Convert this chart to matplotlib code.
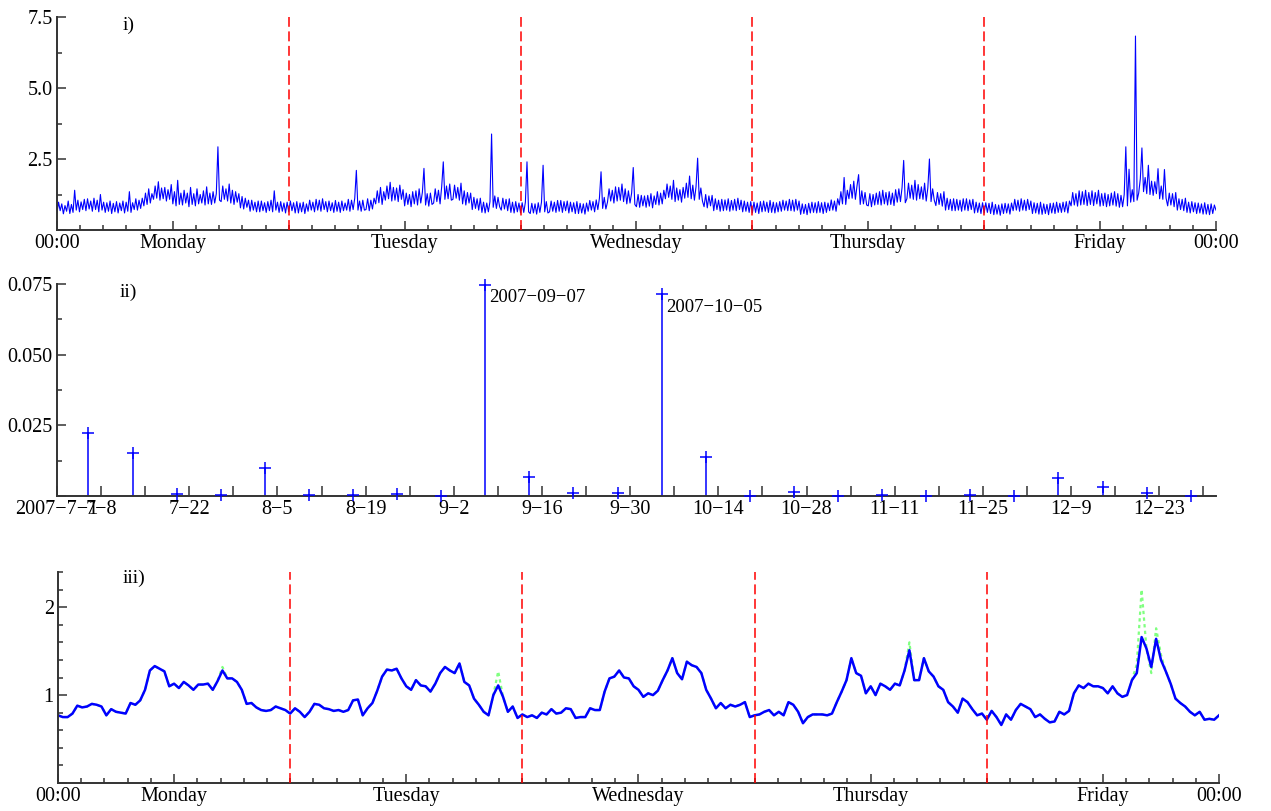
import numpy as np
import pandas as pd
import matplotlib
matplotlib.use("Agg")
import matplotlib.pyplot as plt
from matplotlib.ticker import MultipleLocator, FixedLocator, FuncFormatter

plt.rcParams['font.family'] = ['Liberation Serif', 'DejaVu Serif']

# ---- panel i): raw load, one value every 10 minutes (one row per hour) ----
raw_mon = [0.60, 0.98, 0.68, 0.92, 0.57, 0.86,
           0.66, 1.02, 0.58, 0.90, 0.62, 1.40,
           0.70, 1.05, 0.64, 0.99, 0.72, 1.08,
           0.68, 1.10, 0.74, 1.02, 0.66, 1.12,
           0.72, 1.05, 0.64, 1.25, 0.70, 0.98,
           0.62, 0.96, 0.66, 1.02, 0.58, 0.94,
           0.64, 1.00, 0.60, 0.95, 0.68, 1.02,
           0.60, 0.98, 0.66, 1.35, 0.62, 0.96,
           0.72, 1.10, 0.70, 1.05, 0.76, 1.12,
           0.85, 1.30, 0.90, 1.45, 0.95, 1.28,
           1.08, 1.55, 1.12, 1.70, 1.05, 1.48,
           1.10, 1.50, 1.02, 1.42, 1.08, 1.60,
           0.92, 1.35, 0.85, 1.75, 0.90, 1.30,
           0.88, 1.40, 0.95, 1.30, 0.82, 1.50,
           0.90, 1.28, 0.85, 1.45, 0.92, 1.25,
           0.95, 1.38, 0.88, 1.52, 0.92, 1.30,
           0.90, 1.35, 0.95, 1.28, 2.93, 1.05,
           1.00, 1.55, 1.08, 1.45, 1.02, 1.62,
           0.95, 1.40, 0.90, 1.35, 0.98, 1.28,
           0.78, 1.18, 0.74, 1.12, 0.80, 1.05,
           0.66, 1.05, 0.70, 0.98, 0.64, 1.02,
           0.64, 1.02, 0.68, 0.96, 0.62, 1.00,
           0.68, 1.05, 0.64, 1.38, 0.70, 0.98,
           0.62, 1.00, 0.66, 0.95, 0.60, 0.98]
raw_tue = [0.64, 1.02, 0.68, 0.96, 0.60, 1.00,
           0.60, 0.95, 0.64, 0.98, 0.58, 0.92,
           0.66, 1.05, 0.70, 0.98, 0.64, 1.08,
           0.70, 1.05, 0.66, 1.10, 0.72, 1.00,
           0.64, 1.02, 0.68, 0.96, 0.62, 1.04,
           0.66, 0.98, 0.62, 1.02, 0.68, 0.95,
           0.70, 1.08, 0.66, 1.05, 0.72, 1.12,
           2.10, 0.70, 1.02, 0.66, 1.05, 0.70,
           0.72, 1.10, 0.68, 1.05, 0.74, 1.12,
           0.92, 1.38, 0.96, 1.50, 0.90, 1.35,
           1.05, 1.55, 1.10, 1.68, 1.02, 1.50,
           1.05, 1.48, 1.00, 1.58, 1.08, 1.42,
           0.85, 1.30, 0.90, 1.25, 0.82, 1.35,
           0.92, 1.38, 0.88, 1.45, 0.95, 1.32,
           2.17, 0.88, 1.28, 0.84, 1.30, 0.90,
           0.95, 1.45, 1.00, 1.40, 0.92, 1.52,
           2.40, 1.08, 1.55, 1.10, 1.62, 1.05,
           1.08, 1.58, 1.12, 1.50, 1.05, 1.65,
           0.92, 1.38, 0.88, 1.32, 0.95, 1.30,
           0.72, 1.15, 0.76, 1.10, 0.70, 1.12,
           0.62, 0.98, 0.60, 0.95, 0.64, 1.00,
           3.38, 0.80, 1.20, 0.76, 1.15, 0.82,
           0.70, 1.12, 0.74, 1.08, 0.68, 1.10,
           0.62, 0.98, 0.60, 1.00, 0.64, 0.95]
raw_wed = [0.60, 0.96, 0.62, 0.98, 2.40, 0.64,
           0.58, 0.94, 0.60, 0.92, 0.56, 0.96,
           0.62, 0.98, 2.28, 0.64, 1.00, 0.60,
           0.64, 1.02, 0.66, 0.98, 0.62, 1.04,
           0.66, 1.04, 0.62, 1.00, 0.68, 1.02,
           0.60, 0.98, 0.64, 0.96, 0.58, 1.00,
           0.58, 0.94, 0.60, 0.92, 0.56, 0.95,
           0.66, 1.04, 0.70, 1.00, 0.64, 1.06,
           0.72, 1.12, 2.05, 0.76, 1.15, 0.74,
           0.98, 1.45, 1.02, 1.40, 0.95, 1.52,
           1.02, 1.50, 1.05, 1.62, 1.00, 1.45,
           0.92, 1.38, 0.95, 1.30, 2.20, 0.90,
           0.82, 1.25, 0.80, 1.22, 0.85, 1.20,
           0.80, 1.22, 0.84, 1.28, 0.78, 1.20,
           0.90, 1.35, 0.88, 1.30, 0.92, 1.40,
           1.10, 1.62, 1.15, 1.55, 1.08, 1.75,
           1.00, 1.48, 1.05, 1.42, 0.98, 1.50,
           1.12, 1.65, 1.15, 1.90, 1.10, 1.58,
           1.05, 1.52, 2.53, 1.08, 1.48, 1.02,
           0.82, 1.25, 0.78, 1.20, 0.85, 1.22,
           0.68, 1.10, 0.72, 1.05, 0.66, 1.08,
           0.68, 1.06, 0.70, 1.10, 0.66, 1.04,
           0.70, 1.08, 0.68, 1.12, 0.72, 1.05,
           0.64, 1.02, 0.66, 0.98, 0.62, 1.00]
raw_thu = [0.60, 0.98, 0.62, 0.95, 0.58, 1.00,
           0.64, 1.02, 0.66, 0.98, 0.62, 1.04,
           0.62, 0.98, 0.60, 0.96, 0.64, 1.00,
           0.66, 1.05, 0.70, 1.02, 0.68, 1.08,
           0.68, 1.05, 0.66, 1.08, 0.70, 1.02,
           0.55, 0.92, 0.58, 0.90, 0.54, 0.94,
           0.60, 0.98, 0.62, 0.96, 0.60, 1.00,
           0.62, 0.96, 0.58, 0.98, 0.62, 0.95,
           0.68, 1.06, 0.70, 1.02, 0.66, 1.10,
           0.88, 1.35, 0.92, 1.85, 0.90, 1.40,
           1.10, 1.60, 1.12, 1.72, 1.08, 1.55,
           1.95, 0.90, 1.38, 0.92, 1.32, 0.88,
           0.85, 1.28, 0.82, 1.25, 0.88, 1.30,
           0.90, 1.35, 0.88, 1.40, 0.92, 1.32,
           0.88, 1.35, 0.90, 1.30, 0.86, 1.42,
           0.98, 1.45, 1.00, 1.50, 2.45, 0.96,
           1.10, 1.65, 1.12, 1.58, 1.08, 1.75,
           1.05, 1.60, 1.10, 1.52, 1.08, 1.65,
           1.02, 1.48, 2.50, 1.00, 1.45, 1.05,
           0.86, 1.32, 0.90, 1.28, 0.84, 1.35,
           0.70, 1.12, 0.72, 1.08, 0.68, 1.10,
           0.68, 1.08, 0.70, 1.05, 0.66, 1.10,
           0.70, 1.10, 0.68, 1.06, 0.72, 1.08,
           0.60, 0.98, 0.62, 0.95, 0.58, 0.96]
raw_fri = [0.60, 0.96, 0.62, 0.94, 0.58, 0.98,
           0.54, 0.90, 0.56, 0.88, 0.52, 0.92,
           0.58, 0.94, 0.60, 0.92, 0.56, 0.95,
           0.68, 1.08, 0.70, 1.05, 0.66, 1.10,
           0.70, 1.05, 0.68, 1.08, 0.72, 1.02,
           0.58, 0.96, 0.60, 0.94, 0.56, 0.98,
           0.55, 0.92, 0.58, 0.90, 0.54, 0.94,
           0.60, 0.95, 0.58, 0.98, 0.62, 0.94,
           0.62, 0.98, 0.64, 1.00, 0.60, 1.02,
           0.85, 1.32, 0.88, 1.28, 0.84, 1.38,
           0.88, 1.35, 0.90, 1.40, 0.86, 1.32,
           0.90, 1.38, 0.86, 1.32, 0.92, 1.40,
           0.84, 1.28, 0.86, 1.30, 0.82, 1.25,
           0.85, 1.30, 0.88, 1.35, 0.84, 1.28,
           0.80, 1.22, 0.82, 1.25, 2.93, 0.85,
           2.14, 0.98, 1.42, 1.00, 6.83, 1.05,
           1.30, 1.80, 2.89, 1.35, 1.85, 1.28,
           2.28, 1.25, 1.72, 1.22, 1.70, 1.28,
           2.16, 1.10, 1.55, 1.08, 2.13, 1.12,
           0.85, 1.30, 0.88, 1.28, 0.82, 1.32,
           0.70, 1.10, 0.72, 1.08, 0.68, 1.12,
           0.62, 0.98, 0.60, 1.00, 0.64, 0.96,
           0.58, 0.95, 0.60, 0.92, 0.56, 0.96,
           0.56, 0.90, 0.54, 0.92, 0.58, 0.88]
raw_end = [0.70]

# ---- panel iii): smoothed load, one value every 30 minutes ----
smooth = [0.77, 0.75, 0.75, 0.79, 0.88, 0.86, 0.87, 0.90, 0.89, 0.87,
          0.77, 0.84, 0.81, 0.80, 0.79, 0.91, 0.89, 0.94, 1.06, 1.28,
          1.33, 1.30, 1.27, 1.10, 1.13, 1.08, 1.15, 1.11, 1.06, 1.12,
          1.12, 1.13, 1.06, 1.16, 1.28, 1.19, 1.19, 1.15, 1.06, 0.90,
          0.91, 0.86, 0.83, 0.82, 0.83, 0.87, 0.85, 0.83, 0.79, 0.85,
          0.81, 0.75, 0.81, 0.90, 0.89, 0.85, 0.84, 0.82, 0.83, 0.81,
          0.83, 0.94, 0.95, 0.77, 0.85, 0.91, 1.05, 1.21, 1.29, 1.28,
          1.30, 1.19, 1.10, 1.06, 1.17, 1.11, 1.10, 1.04, 1.13, 1.25,
          1.32, 1.28, 1.25, 1.36, 1.15, 1.11, 0.96, 0.89, 0.81, 0.77,
          1.00, 1.11, 0.98, 0.81, 0.87, 0.74, 0.78, 0.75, 0.77, 0.74,
          0.80, 0.78, 0.84, 0.79, 0.80, 0.85, 0.84, 0.74, 0.75, 0.75,
          0.85, 0.83, 0.83, 1.04, 1.19, 1.21, 1.28, 1.20, 1.19, 1.10,
          1.06, 0.98, 1.02, 1.00, 1.05, 1.17, 1.28, 1.42, 1.25, 1.18,
          1.38, 1.34, 1.32, 1.25, 1.06, 0.96, 0.85, 0.91, 0.85, 0.89,
          0.87, 0.89, 0.92, 0.75, 0.77, 0.78, 0.81, 0.83, 0.77, 0.81,
          0.77, 0.92, 0.89, 0.81, 0.68, 0.75, 0.78, 0.78, 0.78, 0.77,
          0.79, 0.92, 1.04, 1.17, 1.42, 1.25, 1.22, 1.02, 1.10, 1.00,
          1.13, 1.10, 1.06, 1.13, 1.11, 1.28, 1.51, 1.17, 1.17, 1.42,
          1.27, 1.21, 1.10, 1.06, 0.92, 0.87, 0.80, 0.96, 0.92, 0.84,
          0.77, 0.79, 0.72, 0.82, 0.75, 0.66, 0.78, 0.72, 0.83, 0.90,
          0.87, 0.84, 0.75, 0.78, 0.73, 0.69, 0.70, 0.81, 0.78, 0.82,
          1.02, 1.11, 1.08, 1.13, 1.10, 1.10, 1.08, 1.02, 1.10, 1.02,
          0.98, 1.00, 1.17, 1.25, 1.66, 1.53, 1.32, 1.64, 1.40, 1.27,
          1.13, 0.96, 0.91, 0.87, 0.81, 0.77, 0.81, 0.72, 0.73, 0.72, 0.77]
# second (green, dotted) curve only departs from the blue one at a few peaks
alt_index = [34, 91, 176, 223, 224, 226, 227, 228]
alt_value = [1.32, 1.27, 1.60, 1.35, 2.20, 1.25, 1.76, 1.46]

day_ticks = [0, 0.5, 1.5, 2.5, 3.5, 4.5, 5]
day_labels = ["00:00", "Monday", "Tuesday", "Wednesday", "Thursday", "Friday", "00:00"]
day_breaks = [1, 2, 3, 4]

# ---- panel ii): weekly (Friday) values, Jul..Dec 2007 ----
fri_dates = ["2007-07-06", "2007-07-13", "2007-07-20", "2007-07-27", "2007-08-03",
             "2007-08-10", "2007-08-17", "2007-08-24", "2007-08-31", "2007-09-07",
             "2007-09-14", "2007-09-21", "2007-09-28", "2007-10-05", "2007-10-12",
             "2007-10-19", "2007-10-26", "2007-11-02", "2007-11-09", "2007-11-16",
             "2007-11-23", "2007-11-30", "2007-12-07", "2007-12-14", "2007-12-21",
             "2007-12-28"]
fri_values = [0.0224, 0.0153, 0.0008, 0.0003, 0.0098, 0.0002, 0.0003, 0.0008, 0.0001,
              0.0746, 0.0066, 0.0012, 0.0012, 0.0713, 0.0137, 0.0001, 0.0014, 0.0000,
              0.0004, 0.0000, 0.0004, 0.0000, 0.0063, 0.0033, 0.0012, 0.0000]
week_labels = ["2007\u22127\u22121", "7\u22128", "", "7\u221222", "", "8\u22125", "",
               "8\u221219", "", "9\u22122", "", "9\u221216", "", "9\u221230", "",
               "10\u221214", "", "10\u221228", "", "11\u221211", "", "11\u221225", "",
               "12\u22129", "", "12\u221223", ""]
marked = ["2007-09-07", "2007-10-05"]

start = pd.Timestamp("2007-07-01")
end = pd.Timestamp("2008-01-01")

AX_COL = '#333333'


def style(ax):
    ax.spines['top'].set_visible(False)
    ax.spines['right'].set_visible(False)
    for s in ('left', 'bottom'):
        ax.spines[s].set_color(AX_COL)
        ax.spines[s].set_linewidth(1.4)
    ax.tick_params(which='major', direction='in', length=6.8, width=1.1,
                   color=AX_COL, labelsize=14.5, pad=3)
    ax.tick_params(which='minor', direction='in', length=3.6, width=1.1,
                   color=AX_COL)


def day_axis(ax):
    ax.set_xlim(0, 5)
    ax.xaxis.set_major_locator(FixedLocator(day_ticks))
    ax.set_xticklabels(day_labels)
    ax.xaxis.set_minor_locator(MultipleLocator(0.1))
    for d in day_breaks:
        ax.axvline(d, color='#ff0000', lw=1.1, ls=(0, (6.5, 3)), zorder=3)


fig = plt.figure(figsize=(12.71, 8.11), dpi=100)
ax1 = fig.add_axes([0.0448, 0.7164, 0.9119, 0.2626])
ax2 = fig.add_axes([0.0448, 0.3884, 0.9119, 0.2614])
ax3 = fig.add_axes([0.0456, 0.0345, 0.9135, 0.2602])

# panel i
raw = np.array(raw_mon + raw_tue + raw_wed + raw_thu + raw_fri + raw_end)
t_raw = np.arange(len(raw)) / 144.0
ax1.plot(t_raw, raw, color='#0000ff', lw=0.8)
style(ax1)
day_axis(ax1)
ax1.set_ylim(0, 7.5)
ax1.yaxis.set_major_locator(MultipleLocator(2.5))
ax1.yaxis.set_minor_locator(MultipleLocator(1.25))
ax1.yaxis.set_major_formatter(FuncFormatter(lambda v, p: '' if v == 0 else '%.1f' % v))
ax1.text(0.057, 0.962, 'i)', transform=ax1.transAxes, fontsize=14, va='center')

# panel ii
x_fri = (pd.to_datetime(fri_dates) - start).days.values
ax2.vlines(x_fri, 0, fri_values, color='#0000ff', lw=1.1)
ax2.plot(x_fri, fri_values, '+', color='#0000ff', ms=9, mew=1.1,
         clip_on=False, zorder=4)
style(ax2)
ax2.set_xlim(0, (end - start).days)
ax2.set_ylim(0, 0.075)
ax2.xaxis.set_major_locator(FixedLocator(np.arange(0, 183, 7)))
ax2.set_xticklabels(week_labels)
ax2.tick_params(axis='x', which='major', length=7.5)
ax2.yaxis.set_major_locator(MultipleLocator(0.025))
ax2.yaxis.set_minor_locator(MultipleLocator(0.0125))
ax2.yaxis.set_major_formatter(FuncFormatter(lambda v, p: '' if v == 0 else '%.3f' % v))
for d in marked:
    k = fri_dates.index(d)
    ax2.annotate(d.replace('-', '\u2212'), xy=(x_fri[k], fri_values[k]),
                 xytext=(3, -3), textcoords='offset points',
                 ha='left', va='top', fontsize=13.5)
ax2.text(0.054, 0.962, 'ii)', transform=ax2.transAxes, fontsize=14, va='center')

# panel iii
smooth = np.array(smooth)
alt = smooth.copy()
alt[alt_index] = alt_value
t_sm = np.arange(len(smooth)) / 48.0
ax3.plot(t_sm, alt, color='#80ff80', lw=1.6, ls=(0, (1.5, 1.5)))
ax3.plot(t_sm, smooth, color='#0000ff', lw=1.8)
style(ax3)
day_axis(ax3)
ax3.set_ylim(0, 2.4)
ax3.yaxis.set_major_locator(MultipleLocator(1))
ax3.yaxis.set_minor_locator(MultipleLocator(0.2))
ax3.yaxis.set_major_formatter(FuncFormatter(lambda v, p: '' if v == 0 else '%d' % v))
ax3.text(0.056, 0.97, 'iii)', transform=ax3.transAxes, fontsize=14, va='center')

fig.savefig('out.png', dpi=100)
